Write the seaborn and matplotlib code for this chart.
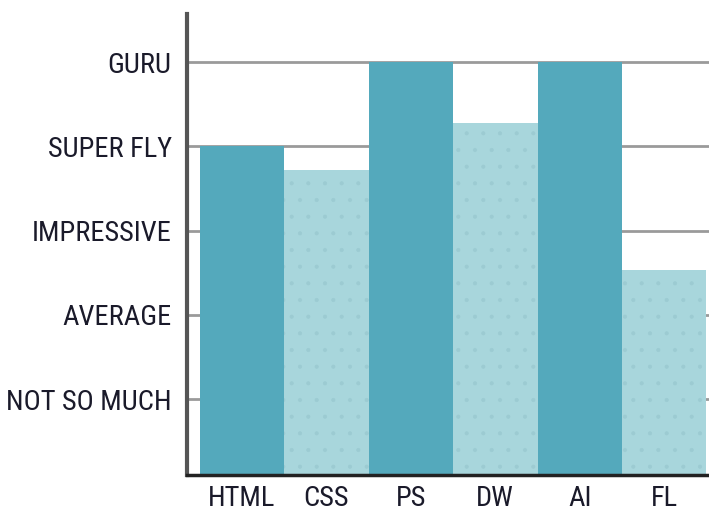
import matplotlib
matplotlib.use("Agg")
import matplotlib.pyplot as plt
from matplotlib import font_manager
import seaborn as sns
import pandas as pd

skills = ["HTML", "CSS", "PS", "DW", "AI", "FL"]
levels = [4.0, 3.72, 5.0, 4.28, 5.0, 2.53]
level_values = [1, 2, 3, 4, 5]
level_labels = ["NOT SO MUCH", "AVERAGE", "IMPRESSIVE", "SUPER FLY", "GURU"]
bar_colors = ["#54A9BC", "#A8D6DC", "#54A9BC", "#A8D6DC", "#54A9BC", "#A8D6DC"]

sns.set_style("white")
available = {f.name for f in font_manager.fontManager.ttflist}
chosen = "Liberation Sans"
size = 15
for cand, sz in [("Liberation Sans Narrow", 18), ("Roboto Condensed", 20.5),
                 ("Open Sans Condensed", 18), ("DejaVu Sans Condensed", 15)]:
    if cand in available:
        chosen, size = cand, sz
        break
plt.rcParams["font.family"] = [chosen, "DejaVu Sans"]
plt.rcParams["font.weight"] = "normal"
plt.rcParams["hatch.linewidth"] = 0.5

df = pd.DataFrame({"skill": skills, "level": levels})

fig = plt.figure(figsize=(7.09, 5.18), dpi=100)
ax = fig.add_axes([187 / 709, 43 / 518, 522 / 709, 461 / 518])

sns.barplot(data=df, x="skill", y="level", hue="skill", palette=bar_colors,
            legend=False, width=1.0, ax=ax, saturation=1.0, linewidth=0)

for p, c in zip(ax.patches, bar_colors):
    if c == "#A8D6DC":
        p.set_hatch(".")
        p.set_edgecolor("#9CCBD2")
    else:
        p.set_edgecolor(c)
    p.set_linewidth(0)

ax.set_ylim(0.1, 5.57)
ax.set_xlim(-0.65, 5.53)
ax.set_yticks(level_values)
ax.set_yticklabels(level_labels)
ax.yaxis.grid(True, color="#9a9a9a", lw=2)
ax.set_axisbelow(True)
ax.tick_params(axis="both", length=0, labelsize=size, colors="#1a1a2a", pad=11)
ax.tick_params(axis="x", pad=7)
ax.set_xlabel("")
ax.set_ylabel("")
for s in ["top", "right"]:
    ax.spines[s].set_visible(False)
ax.spines["left"].set_color("#555555")
ax.spines["left"].set_linewidth(3)
ax.spines["bottom"].set_color("#222222")
ax.spines["bottom"].set_linewidth(2.5)

fig.savefig("out.png", dpi=100)
